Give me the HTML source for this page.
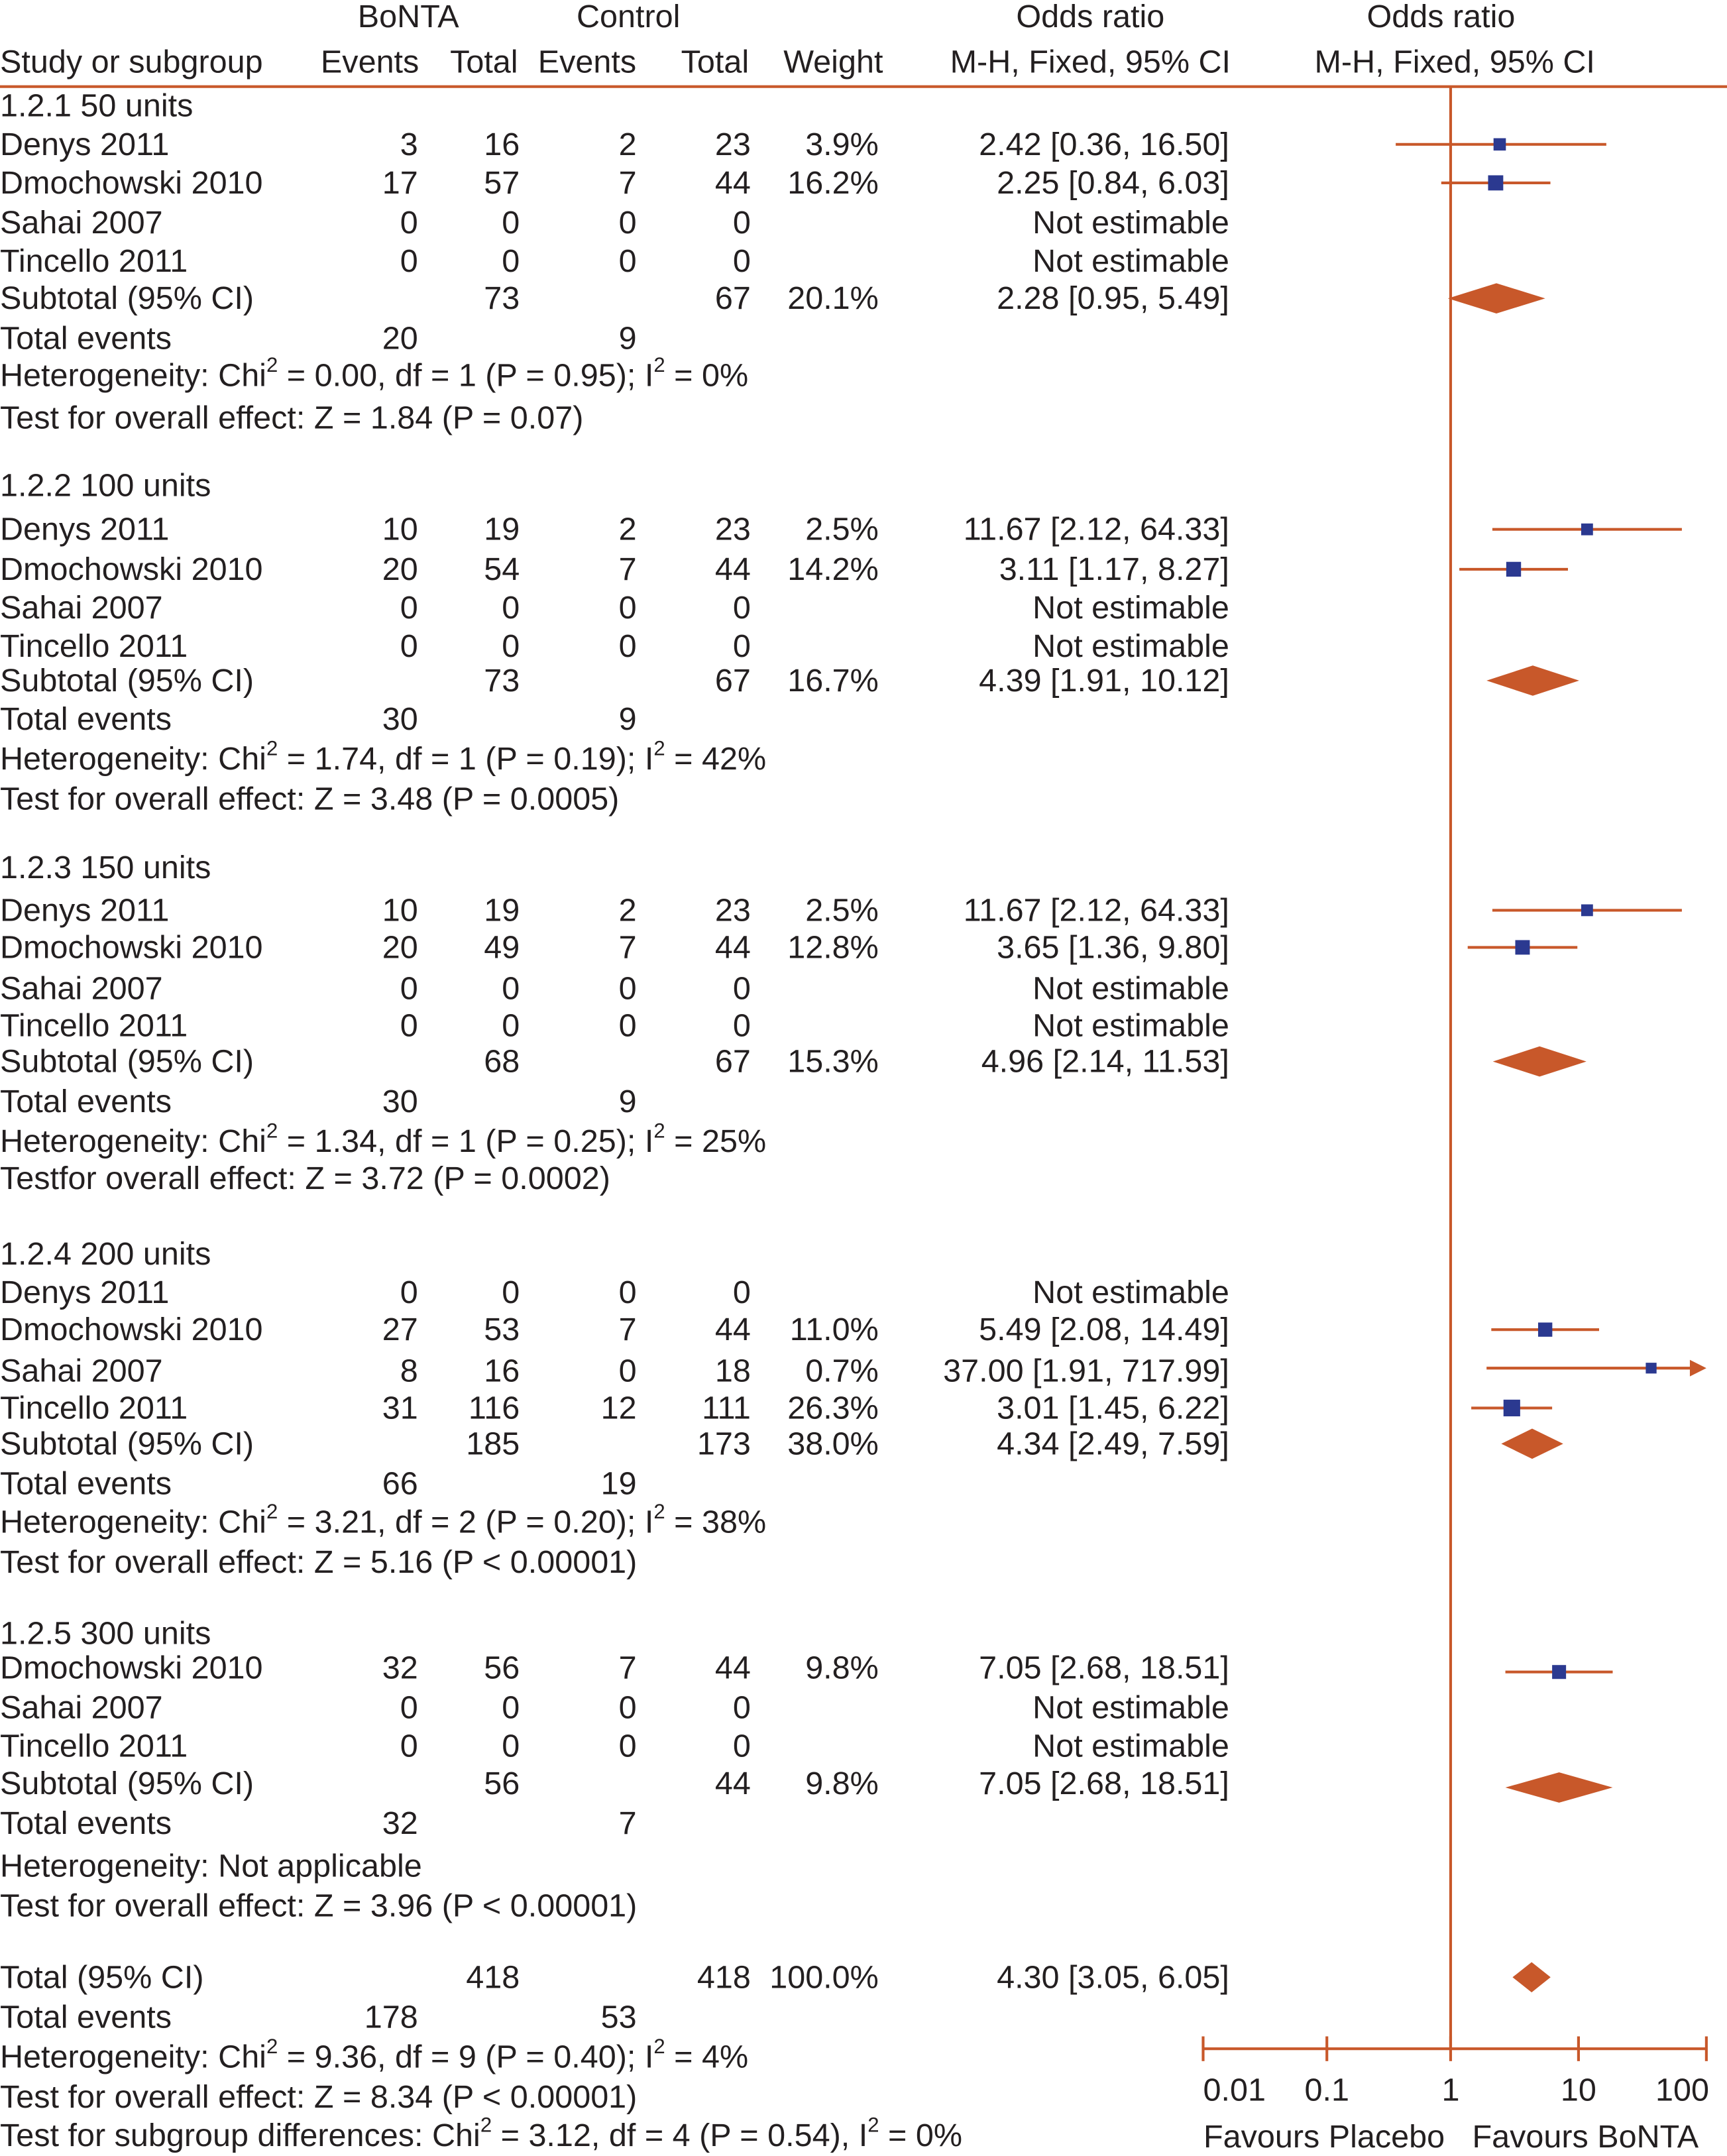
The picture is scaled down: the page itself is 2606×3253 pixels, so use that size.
<!DOCTYPE html>
<html><head><meta charset="utf-8"><style>
html,body{margin:0;padding:0;background:#fff;}
svg{display:block;}
text{font-family:"Liberation Sans",Arial,sans-serif;font-size:23.4px;fill:#231f20;dominant-baseline:central;}
</style></head><body>
<svg id="chart" xmlns="http://www.w3.org/2000/svg" width="2606" height="3253" viewBox="0 0 1256 1568" preserveAspectRatio="none">
<g id="hdr">
<text x="297" y="12" text-anchor="middle">BoNTA</text>
<text x="457" y="12" text-anchor="middle">Control</text>
<text x="793" y="12" text-anchor="middle">Odds ratio</text>
<text x="1048" y="12" text-anchor="middle">Odds ratio</text>
<text x="0" y="45">Study or subgroup</text>
<text x="269" y="45" text-anchor="middle">Events</text>
<text x="352" y="45" text-anchor="middle">Total</text>
<text x="427" y="45" text-anchor="middle">Events</text>
<text x="520" y="45" text-anchor="middle">Total</text>
<text x="606" y="45" text-anchor="middle">Weight</text>
<text x="793" y="45" text-anchor="middle">M-H, Fixed, 95% CI</text>
<text x="1058" y="45" text-anchor="middle">M-H, Fixed, 95% CI</text>
</g>
<line x1="0" y1="63" x2="1256" y2="63" stroke="#c8582a" stroke-width="2"/>
<line x1="1055" y1="63" x2="1055" y2="1490" stroke="#c8582a" stroke-width="2"/>
<g id="rows"></g>
<g id="marks"></g>
<g id="axis"></g>
</svg>
<script>
const rowLabels = ["1.2.1 50 units","Denys 2011","Dmochowski 2010","Sahai 2007","Tincello 2011","Subtotal (95% CI)","Total events","Heterogeneity: Chi|2| = 0.00, df = 1 (P = 0.95); I|2| = 0%","Test for overall effect: Z = 1.84 (P = 0.07)",
"1.2.2 100 units","Denys 2011","Dmochowski 2010","Sahai 2007","Tincello 2011","Subtotal (95% CI)","Total events","Heterogeneity: Chi|2| = 1.74, df = 1 (P = 0.19); I|2| = 42%","Test for overall effect: Z = 3.48 (P = 0.0005)",
"1.2.3 150 units","Denys 2011","Dmochowski 2010","Sahai 2007","Tincello 2011","Subtotal (95% CI)","Total events","Heterogeneity: Chi|2| = 1.34, df = 1 (P = 0.25); I|2| = 25%","Testfor overall effect: Z = 3.72 (P = 0.0002)",
"1.2.4 200 units","Denys 2011","Dmochowski 2010","Sahai 2007","Tincello 2011","Subtotal (95% CI)","Total events","Heterogeneity: Chi|2| = 3.21, df = 2 (P = 0.20); I|2| = 38%","Test for overall effect: Z = 5.16 (P < 0.00001)",
"1.2.5 300 units","Dmochowski 2010","Sahai 2007","Tincello 2011","Subtotal (95% CI)","Total events","Heterogeneity: Not applicable","Test for overall effect: Z = 3.96 (P < 0.00001)",
"Total (95% CI)","Total events","Heterogeneity: Chi|2| = 9.36, df = 9 (P = 0.40); I|2| = 4%","Test for overall effect: Z = 8.34 (P < 0.00001)","Test for subgroup differences: Chi|2| = 3.12, df = 4 (P = 0.54), I|2| = 0%"];
const rowY = [77,105,133,162,190,217,246,273,304, 353,385,414,442,470,495,523,552,581, 631,662,689,719,746,772,801,830,857, 912,940,967,997,1024,1050,1079,1107,1136, 1188,1213,1242,1270,1297,1326,1357,1386, 1438,1467,1496,1525,1553];
const ev1 = ["","3","17","0","0","","20","","", "","10","20","0","0","","30","","", "","10","20","0","0","","30","","", "","0","27","8","31","","66","","", "","32","0","0","","32","","", "","178","","",""];
const tot1 = ["","16","57","0","0","73","","","", "","19","54","0","0","73","","","", "","19","49","0","0","68","","","", "","0","53","16","116","185","","","", "","56","0","0","56","","","", "418","","","",""];
const ev2 = ["","2","7","0","0","","9","","", "","2","7","0","0","","9","","", "","2","7","0","0","","9","","", "","0","7","0","12","","19","","", "","7","0","0","","7","","", "","53","","",""];
const tot2 = ["","23","44","0","0","67","","","", "","23","44","0","0","67","","","", "","23","44","0","0","67","","","", "","0","44","18","111","173","","","", "","44","0","0","44","","","", "418","","","",""];
const wts = ["","3.9%","16.2%","","","20.1%","","","", "","2.5%","14.2%","","","16.7%","","","", "","2.5%","12.8%","","","15.3%","","","", "","","11.0%","0.7%","26.3%","38.0%","","","", "","9.8%","","","9.8%","","","", "100.0%","","","",""];
const ciTxt = ["","2.42 [0.36, 16.50]","2.25 [0.84, 6.03]","Not estimable","Not estimable","2.28 [0.95, 5.49]","","","", "","11.67 [2.12, 64.33]","3.11 [1.17, 8.27]","Not estimable","Not estimable","4.39 [1.91, 10.12]","","","", "","11.67 [2.12, 64.33]","3.65 [1.36, 9.80]","Not estimable","Not estimable","4.96 [2.14, 11.53]","","","", "","Not estimable","5.49 [2.08, 14.49]","37.00 [1.91, 717.99]","3.01 [1.45, 6.22]","4.34 [2.49, 7.59]","","","", "","7.05 [2.68, 18.51]","Not estimable","Not estimable","7.05 [2.68, 18.51]","","","", "4.30 [3.05, 6.05]","","","",""];

const studyOR = [2.42,2.25,11.67,3.11,11.67,3.65,5.49,37.00,3.01,7.05];
const studyLo = [0.36,0.84,2.12,1.17,2.12,1.36,2.08,1.91,1.45,2.68];
const studyHi = [16.50,6.03,64.33,8.27,64.33,9.80,14.49,717.99,6.22,18.51];
const studyW  = [3.9,16.2,2.5,14.2,2.5,12.8,11.0,0.7,26.3,9.8];
const studyY  = [105,133,385,414,662,689,967,995,1024,1216];
const poolOR = [2.28,4.39,4.96,4.34,7.05,4.30];
const poolLo = [0.95,1.91,2.14,2.49,2.68,3.05];
const poolHi = [5.49,10.12,11.53,7.59,18.51,6.05];
const poolY  = [217,495,772,1050,1300,1438];
const tickVals = [0.01,0.1,1,10,100];
const tickLabels = ["0.01","0.1","1","10","100"];

const NS="http://www.w3.org/2000/svg";
const X0=1055, XMIN=875, XMAX=1241;
function xs(v){const l=Math.log10(v);return X0+(l<0?90*l:93*l);}
function mk(tag,attrs,parent){const e=document.createElementNS(NS,tag);for(const k in attrs)e.setAttribute(k,attrs[k]);parent.appendChild(e);return e;}
function addText(parent,str,x,y,anchor){
  const t=mk('text',{x:x,y:y,'text-anchor':anchor||'start'},parent);
  const parts=str.split('|');
  parts.forEach((p,i)=>{
    const s=mk('tspan',{},t);
    if(i%2===1){s.setAttribute('font-size','15');s.setAttribute('dy','-8');}
    else if(i>0){s.setAttribute('dy','8');}
    s.textContent=p;
  });
  return t;
}
const rows=document.getElementById('rows');
rowLabels.forEach((lab,i)=>{
  const y=rowY[i];
  const t=addText(rows,lab,0,y);
  
  
  const cols=[[ev1,304,'bonta-events'],[tot1,378,'bonta-total'],[ev2,463,'control-events'],[tot2,546,'control-total'],[wts,639,'weight'],[ciTxt,894,'odds-ratio-ci']];
  cols.forEach(c=>{
    if(c[0][i]){
      const e=addText(rows,c[0][i],c[1],y,'end');
      
      
    }
  });
});
const marks=document.getElementById('marks');
const OR='#c8582a';
studyOR.forEach((v,i)=>{
  const y=studyY[i];
  const lo=Math.max(XMIN,xs(studyLo[i])), hiRaw=xs(studyHi[i]);
  const clipped=hiRaw>XMAX;
  const hi=clipped?XMAX-10:hiRaw;
  const l=mk('line',{x1:lo,y1:y,x2:hi,y2:y,stroke:OR,'stroke-width':2},marks);
  
  
  if(clipped){
    const a=mk('polygon',{points:`${XMAX-12},${y-6} ${XMAX},${y} ${XMAX-12},${y+6}`,fill:OR},marks);
    
    
  }
  const s=7+Math.sqrt(studyW[i])*1.0;
  const r=mk('rect',{x:xs(v)-s/2,y:y-s/2,width:s,height:s,fill:'#2b3990'},marks);
  
  
});
poolOR.forEach((v,i)=>{
  const y=poolY[i], h=11;
  const d=mk('polygon',{points:`${xs(poolLo[i])},${y} ${xs(v)},${y-h} ${xs(poolHi[i])},${y} ${xs(v)},${y+h}`,fill:OR},marks);
  
  
});
const ax=document.getElementById('axis');
const al=mk('line',{x1:XMIN,y1:1490,x2:XMAX,y2:1490,stroke:OR,'stroke-width':2},ax);


tickVals.forEach((v,i)=>{
  const x=xs(v);
  const tk=mk('line',{x1:x,y1:1481,x2:x,y2:1499,stroke:OR,'stroke-width':2},ax);
  
  
  let anchor='middle', lx=x;
  if(i===0){anchor='start';lx=x;}
  if(i===tickVals.length-1){anchor='end';lx=x+2;}
  const t=addText(ax,tickLabels[i],lx,1520,anchor);
  
  
});
const f1=addText(ax,'Favours Placebo',963,1554,'middle');


const f2=addText(ax,'Favours BoNTA',1153,1554,'middle');


</script>
</body></html>
